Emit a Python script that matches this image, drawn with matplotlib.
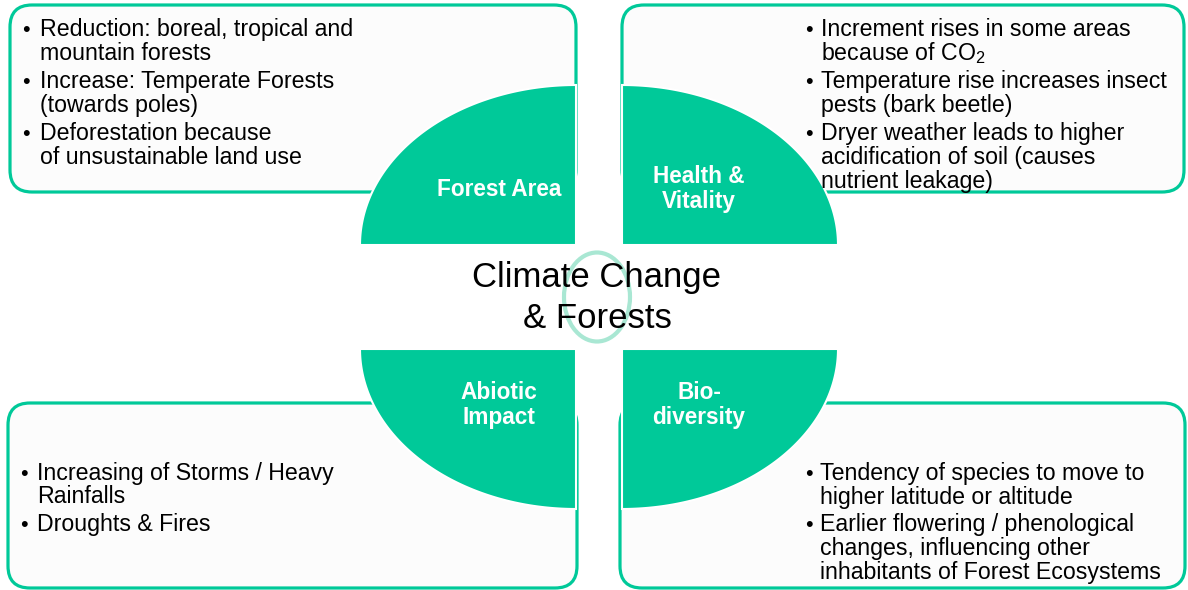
import numpy as np
import matplotlib
matplotlib.use("Agg")
import matplotlib.pyplot as plt
from matplotlib.patches import FancyBboxPatch, Polygon, Ellipse

plt.rcParams['font.family'] = ['Liberation Sans', 'DejaVu Sans']
plt.rcParams['mathtext.fontset'] = 'custom'
plt.rcParams['mathtext.rm'] = 'Liberation Sans'
plt.rcParams['mathtext.it'] = 'Liberation Sans:italic'
plt.rcParams['mathtext.bf'] = 'Liberation Sans:bold'

# ---- content ----
title = "Climate Change\n& Forests"
labels = ["Forest Area", "Health &\nVitality", "Abiotic\nImpact", "Bio-\ndiversity"]
items_tl = [["Reduction: boreal, tropical and", "mountain forests"],
            ["Increase: Temperate Forests", "(towards poles)"],
            ["Deforestation because", "of unsustainable land use"]]
items_tr = [["Increment rises in some areas", r"because of CO$_\mathrm{2}$"],
            ["Temperature rise increases insect", "pests (bark beetle)"],
            ["Dryer weather leads to higher", "acidification of soil (causes", "nutrient leakage)"]]
items_bl = [["Increasing of Storms / Heavy", "Rainfalls"],
            ["Droughts & Fires"]]
items_br = [["Tendency of species to move to", "higher latitude or altitude"],
            ["Earlier flowering / phenological", "changes, influencing other",
             "inhabitants of Forest Ecosystems"]]

GREEN = '#00C999'
RING = '#A9E7D3'
BOXFILL = '#FCFCFC'

W, H = 1188, 590
fig = plt.figure(figsize=(W / 100, H / 100), dpi=100)
ax = fig.add_axes([0, 0, 1, 1])
ax.set_xlim(0, W)
ax.set_ylim(H, 0)
ax.axis('off')

# ---- boxes ----
boxes = [(10, 5, 576, 192), (622, 5, 1184, 192), (8, 403, 577, 588), (620, 403, 1185, 588)]
for x0, y0, x1, y1 in boxes:
    r = 22
    p = FancyBboxPatch((x0 + r, y0 + r), (x1 - x0) - 2 * r, (y1 - y0) - 2 * r,
                       boxstyle=f"round,pad={r}", fc=BOXFILL, ec=GREEN, lw=2.3, zorder=1)
    ax.add_patch(p)

# ---- quarter ellipses ----
rx, ry = 216, 160
quarters = [(576, 245, -1, -1), (622, 245, 1, -1), (576, 349, -1, 1), (622, 349, 1, 1)]
t = np.linspace(0, np.pi / 2, 120)
for cx, cy, sx, sy in quarters:
    xs = cx + sx * rx * np.cos(t)
    ys = cy + sy * ry * np.sin(t)
    pts = np.column_stack([np.r_[cx, xs], np.r_[cy, ys]])
    ax.add_patch(Polygon(pts, closed=True, fc=GREEN, ec='white', lw=1.5, zorder=2))

# ---- ring ----
ax.add_patch(Ellipse((597, 297), 66, 89, fc='none', ec=RING, lw=3, zorder=3))

# ---- title ----
ax.text(597, 298, title, ha='center', va='center', fontsize=25, color='black',
        linespacing=1.3, zorder=4)

# ---- quadrant labels ----
label_pos = [(499, 189), (699, 189), (499, 405), (699, 405)]
for (x, y), s in zip(label_pos, labels):
    ax.text(x, y, s, ha='center', va='center', fontsize=16.3, fontweight='bold',
            color='white', linespacing=1.07, zorder=4)

# ---- bullet lists ----
FS = 16.7


def bullets(items, xb, xt, y0, dline=24, ditem=28):
    y = y0
    for item in items:
        ax.text(xb, y, "\u2022", ha='left', va='baseline', fontsize=FS - 1, color='black', zorder=4)
        for j, line in enumerate(item):
            ax.text(xt, y, line, ha='left', va='baseline', fontsize=FS, color='black', zorder=4)
            if j < len(item) - 1:
                y += dline
        y += ditem


bullets(items_tl, 22, 40, 36)
bullets(items_tr, 805, 821, 36)
bullets(items_bl, 20, 37, 480, dline=23)
bullets(items_br, 805, 820, 480, dline=24, ditem=27)

fig.savefig('out.png', dpi=100)
